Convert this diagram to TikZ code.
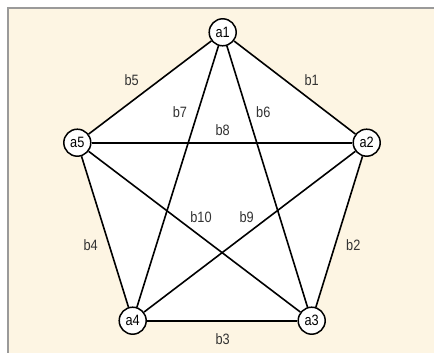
\documentclass[tikz,border=0pt]{standalone}
\usepackage{fontspec}
\setmainfont[FakeStretch=0.85]{Liberation Sans}
\definecolor{cream}{HTML}{FDF5E3}
\definecolor{framegray}{HTML}{9A9A9A}
\tikzset{
  vertex/.style={draw, circle, fill=white, line width=1.5pt, minimum size=27pt, inner sep=0pt, font=\fontsize{15}{15}\selectfont},
  edge/.style={line width=1.6pt},
  elabel/.style={font=\fontsize{15}{15}\selectfont, text=black!80}
}
\begin{document}
\begin{tikzpicture}[x=1pt, y=-1pt]
\useasboundingbox (0,0) rectangle (434,353);
\fill[cream] (8,8) rectangle (434,353);
\draw[framegray, line width=2.5pt] (8,353) -- (8,8) -- (434,8);
\fill[white] (222.7,32.3) -- (366.7,142.7) -- (311.7,320.7) -- (132.7,320.7) -- (77.3,142.7) -- cycle;

\node[vertex] (a1) at (222.7,32.3) {a1};
\node[vertex] (a2) at (366.7,142.7) {a2};
\node[vertex] (a3) at (311.7,320.7) {a3};
\node[vertex] (a4) at (132.7,320.7) {a4};
\node[vertex] (a5) at (77.3,142.7) {a5};

\draw[edge] (a1) -- (a2);
\draw[edge] (a2) -- (a3);
\draw[edge] (a3) -- (a4);
\draw[edge] (a4) -- (a5);
\draw[edge] (a5) -- (a1);
\draw[edge] (a1) -- (a3);
\draw[edge] (a1) -- (a4);
\draw[edge] (a5) -- (a2);
\draw[edge] (a2) -- (a4);
\draw[edge] (a5) -- (a3);

\node[elabel] (b1) at (311.7,80) {b1};
\node[elabel] (b2) at (353.3,245) {b2};
\node[elabel] (b3) at (222.7,339.3) {b3};
\node[elabel] (b4) at (90.7,245) {b4};
\node[elabel] (b5) at (131.7,80) {b5};
\node[elabel] (b6) at (263.3,111.7) {b6};
\node[elabel] (b7) at (180,111.7) {b7};
\node[elabel] (b8) at (222.7,130) {b8};
\node[elabel] (b9) at (246.7,217.3) {b9};
\node[elabel] (b10) at (201,217.3) {b10};
\end{tikzpicture}
\end{document}
